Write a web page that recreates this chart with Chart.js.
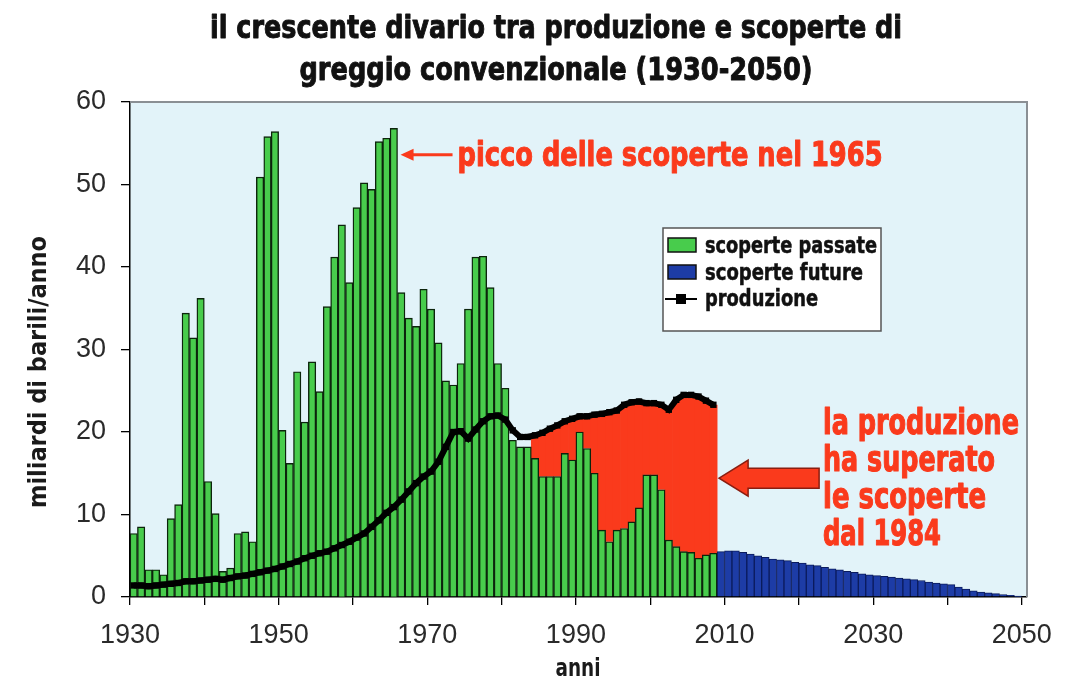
<!DOCTYPE html>
<html>
<head>
<meta charset="utf-8">
<script src="https://cdn.jsdelivr.net/npm/chart.js@4.4.1/dist/chart.umd.min.js"></script>
<style>
  html, body { margin: 0; padding: 0; background: #fff; }
  #wrap { width: 1081px; height: 683px; position: relative; }
</style>
</head>
<body>
<div id="wrap"><canvas id="chart" width="1081" height="683"></canvas></div>
<script>
// ── data (miliardi di barili/anno) ─────────────────────────────
const PAST_YEARS = [
  1930,1931,1932,1933,1934,1935,1936,1937,1938,1939,
  1940,1941,1942,1943,1944,1945,1946,1947,1948,1949,
  1950,1951,1952,1953,1954,1955,1956,1957,1958,1959,
  1960,1961,1962,1963,1964,1965,1966,1967,1968,1969,
  1970,1971,1972,1973,1974,1975,1976,1977,1978,1979,
  1980,1981,1982,1983,1984,1985,1986,1987,1988,1989,
  1990,1991,1992,1993,1994,1995,1996,1997,1998,1999,
  2000,2001,2002,2003,2004,2005,2006,2007,2008
];
const PAST_DISCOVERIES = [
  7.7, 8.5, 3.3, 3.3, 2.7, 9.5, 11.2, 34.4, 31.4, 36.2,
  14.0, 10.1, 3.1, 3.5, 7.7, 7.9, 6.7, 50.9, 55.8, 56.4,
  20.2, 16.2, 27.3, 21.2, 28.5, 24.9, 35.2, 41.2, 45.1, 38.1,
  47.2, 50.2, 49.4, 55.2, 55.6, 56.8, 36.9, 33.8, 32.8, 37.3,
  34.9, 30.8, 26.2, 25.7, 28.3, 34.9, 41.2, 41.3, 37.5, 28.3,
  25.3, 19.0, 18.2, 18.2, 16.8, 14.6, 14.6, 14.6, 17.4, 16.6,
  20.0, 18.0, 15.0, 8.1, 6.7, 8.1, 8.3, 9.1, 10.8, 14.8,
  14.8, 13.0, 6.9, 6.1, 5.5, 5.4, 4.7, 5.1, 5.3
];
const PRODUCTION = [
  1.4, 1.4, 1.3, 1.4, 1.5, 1.6, 1.7, 1.9, 1.9, 2.0,
  2.1, 2.2, 2.1, 2.3, 2.5, 2.6, 2.8, 3.0, 3.2, 3.4,
  3.7, 4.0, 4.3, 4.7, 5.0, 5.3, 5.5, 5.9, 6.3, 6.7,
  7.2, 7.7, 8.5, 9.3, 10.2, 10.9, 11.8, 12.8, 13.8, 14.6,
  15.2, 16.4, 18.2, 20.0, 20.1, 19.2, 20.3, 21.3, 21.9, 22.0,
  21.5, 20.2, 19.4, 19.4, 19.6, 19.9, 20.4, 20.8, 21.3, 21.6,
  21.9, 21.9, 22.1, 22.2, 22.4, 22.6, 23.3, 23.6, 23.7, 23.5,
  23.5, 23.3, 22.7, 23.9, 24.5, 24.5, 24.3, 23.8, 23.3
];
const FUTURE_YEARS = [
  2009,2010,2011,2012,2013,2014,2015,2016,2017,2018,2019,
  2020,2021,2022,2023,2024,2025,2026,2027,2028,2029,
  2030,2031,2032,2033,2034,2035,2036,2037,2038,2039,
  2040,2041,2042,2043,2044,2045,2046,2047,2048,2049
];
const FUTURE_DISCOVERIES = [
  5.5, 5.6, 5.6, 5.4, 5.2, 5.0, 4.8, 4.6, 4.5, 4.4, 4.2,
  4.1, 3.9, 3.8, 3.6, 3.4, 3.3, 3.1, 3.0, 2.8, 2.7,
  2.6, 2.5, 2.4, 2.3, 2.2, 2.1, 2.0, 1.8, 1.7, 1.6,
  1.5, 1.2, 0.95, 0.75, 0.6, 0.5, 0.4, 0.3, 0.2, 0.1
];
const GAP_FROM = 1984;   // production above discoveries from here on
const X_TICK_LABELS = [1930, 1950, 1970, 1990, 2010, 2030, 2050];

const GREEN = "#48cc4c", BLUE = "#1d3ca6", RED = "#fa3a1c";
const NARROW = "'DejaVu Sans Condensed', 'Liberation Sans Narrow', sans-serif";
const AXISFONT = "'Liberation Sans Narrow', 'Liberation Sans', Arial, sans-serif";

// bars sit between year and year+1
const mid = y => y + 0.5;

// ── text helper: squeeze to a given width, optional stroke to fatten ──
function fitText(ctx, text, x, y, width, font, color, align, heavy) {
  ctx.save();
  ctx.font = font;
  ctx.fillStyle = color;
  ctx.strokeStyle = color;
  ctx.textBaseline = "alphabetic";
  const w = ctx.measureText(text).width;
  const k = width / w;
  let left = x;
  if (align === "center") left = x - width / 2;
  ctx.translate(left, y);
  ctx.scale(k, 1);
  ctx.textAlign = "left";
  if (heavy) {
    ctx.lineWidth = heavy;
    ctx.lineJoin = "round";
    ctx.strokeText(text, 0, 0);
  }
  ctx.fillText(text, 0, 0);
  ctx.restore();
}

const overlay = {
  id: "overlay",
  beforeDraw(chart) {
    const { ctx, chartArea: a } = chart;
    ctx.save();
    ctx.fillStyle = "#fff";
    ctx.fillRect(0, 0, chart.width, chart.height);
    ctx.fillStyle = "#e2f3f9";
    ctx.fillRect(a.left, a.top, a.right - a.left, a.bottom - a.top);
    ctx.restore();
  },
  afterDatasetsDraw(chart) {
    const { ctx, chartArea: a } = chart;
    ctx.save();
    ctx.strokeStyle = "#8a8f94";
    ctx.lineWidth = 2;
    ctx.beginPath();
    ctx.moveTo(a.left, a.top);
    ctx.lineTo(a.right, a.top);
    ctx.lineTo(a.right, a.bottom);
    ctx.stroke();
    ctx.restore();
  },
  afterDraw(chart) {
    const { ctx } = chart;
    const xs = chart.scales.x, ys = chart.scales.y;

    // title
    fitText(ctx, "il crescente divario tra produzione e scoperte di", 556, 38, 692,
      "bold 32px " + NARROW, "#111", "center", 0.9);
    fitText(ctx, "greggio convenzionale (1930-2050)", 556, 80, 513,
      "bold 32px " + NARROW, "#111", "center", 0.9);

    // axis titles
    ctx.save();
    ctx.translate(46, 372);
    ctx.rotate(-Math.PI / 2);
    fitText(ctx, "miliardi di barili/anno", 0, 0, 272, "bold 24px " + NARROW, "#1a1a1a", "center");
    ctx.restore();
    fitText(ctx, "anni", 578, 676, 45, "bold 25px " + NARROW, "#1a1a1a", "center");

    // peak annotation
    const tipX = xs.getPixelForValue(1966) + 3, tipY = ys.getPixelForValue(53.6);
    ctx.save();
    ctx.strokeStyle = RED; ctx.fillStyle = RED; ctx.lineWidth = 3;
    ctx.beginPath();
    ctx.moveTo(tipX + 10, tipY); ctx.lineTo(tipX + 52, tipY); ctx.stroke();
    ctx.beginPath();
    ctx.moveTo(tipX, tipY); ctx.lineTo(tipX + 13, tipY - 6); ctx.lineTo(tipX + 13, tipY + 6);
    ctx.closePath(); ctx.fill();
    ctx.restore();
    fitText(ctx, "picco delle scoperte nel 1965", tipX + 57, 166, 425, "bold 34px " + NARROW, RED, "left", 1.0);

    // gap annotation: big arrow pointing at the 2008 edge
    const ax = xs.getPixelForValue(2009) + 2, ay = ys.getPixelForValue(14.4);
    ctx.save();
    ctx.fillStyle = RED; ctx.strokeStyle = "#8a1d10"; ctx.lineWidth = 1.5;
    ctx.beginPath();
    ctx.moveTo(ax, ay);
    ctx.lineTo(ax + 29, ay - 18);
    ctx.lineTo(ax + 29, ay - 10);
    ctx.lineTo(ax + 100, ay - 10);
    ctx.lineTo(ax + 100, ay + 10);
    ctx.lineTo(ax + 29, ay + 10);
    ctx.lineTo(ax + 29, ay + 18);
    ctx.closePath();
    ctx.fill(); ctx.stroke();
    ctx.restore();
    const gapFont = "bold 36px " + NARROW;
    fitText(ctx, "la produzione", 823, 434, 196, gapFont, RED, "left", 1.1);
    fitText(ctx, "ha superato", 823, 471, 172, gapFont, RED, "left", 1.1);
    fitText(ctx, "le scoperte", 823, 508, 163, gapFont, RED, "left", 1.1);
    fitText(ctx, "dal 1984", 823, 545, 118, gapFont, RED, "left", 1.1);

    // legend
    ctx.save();
    ctx.fillStyle = "#fff"; ctx.strokeStyle = "#555"; ctx.lineWidth = 1.5;
    ctx.fillRect(663, 228, 218, 103); ctx.strokeRect(663, 228, 218, 103);
    ctx.lineWidth = 1.5; ctx.strokeStyle = "#111";
    ctx.fillStyle = GREEN; ctx.fillRect(668, 238, 28, 14); ctx.strokeRect(668, 238, 28, 14);
    ctx.fillStyle = BLUE; ctx.fillRect(668, 265, 28, 14); ctx.strokeRect(668, 265, 28, 14);
    ctx.strokeStyle = "#000"; ctx.lineWidth = 2;
    ctx.beginPath(); ctx.moveTo(665, 299); ctx.lineTo(697, 299); ctx.stroke();
    ctx.fillStyle = "#000"; ctx.fillRect(676, 294, 10, 10);
    ctx.restore();
    const legFont = "bold 23px " + NARROW;
    fitText(ctx, "scoperte passate", 705, 253, 172, legFont, "#111", "left", 0.5);
    fitText(ctx, "scoperte future", 705, 280, 158, legFont, "#111", "left", 0.5);
    fitText(ctx, "produzione", 705, 306, 113, legFont, "#111", "left", 0.5);
  }
};

const gapIdx = PAST_YEARS.map((y, i) => i).filter(i => PAST_YEARS[i] >= GAP_FROM);

new Chart(document.getElementById("chart"), {
  type: "bar",
  data: {
    datasets: [
      {
        type: "line",
        label: "produzione",
        data: PAST_YEARS.map((y, i) => ({ x: mid(y), y: PRODUCTION[i] })),
        borderColor: "#000",
        backgroundColor: "#000",
        borderWidth: 6,
        pointStyle: "rect",
        pointRadius: 4.5,
        pointBorderWidth: 0,
        tension: 0,
        order: 0
      },
      {
        label: "scoperte passate",
        data: PAST_YEARS.map((y, i) => ({ x: mid(y), y: PAST_DISCOVERIES[i] })),
        backgroundColor: GREEN,
        borderColor: "#0c240c",
        borderWidth: 1.4,
        order: 1
      },
      {
        label: "scoperte future",
        data: FUTURE_YEARS.map((y, i) => ({ x: mid(y), y: FUTURE_DISCOVERIES[i] })),
        backgroundColor: BLUE,
        borderColor: "#0b1b5c",
        borderWidth: 1,
        order: 2
      },
      {
        label: "divario",
        data: gapIdx.map(i => ({ x: mid(PAST_YEARS[i]), y: [PAST_DISCOVERIES[i], PRODUCTION[i]] })),
        backgroundColor: RED,
        borderWidth: 0,
        barPercentage: 1.1,
        order: 3
      }
    ]
  },
  options: {
    responsive: false,
    animation: false,
    events: [],
    grouped: false,
    barPercentage: 1,
    categoryPercentage: 1,
    layout: { padding: { top: 102, right: 54, left: 0, bottom: 0 } },
    plugins: {
      legend: { display: false },
      title: { display: false },
      tooltip: { enabled: false }
    },
    scales: {
      x: {
        type: "linear",
        min: 1930,
        max: 2050.7,
        offset: false,
        grid: { drawOnChartArea: false, offset: false, tickLength: 8, color: "#000", lineWidth: 1.3 },
        border: { color: "#000", width: 1.5 },
        ticks: {
          stepSize: 10,
          includeBounds: false,
          autoSkip: false,
          maxRotation: 0,
          padding: 14,
          color: "#2a2a2a",
          font: { family: AXISFONT, size: 27 },
          callback: v => X_TICK_LABELS.includes(v) ? String(v) : ""
        },
        afterFit: s => { s.height = 86; }
      },
      y: {
        min: 0,
        max: 60,
        grid: { drawOnChartArea: false, tickLength: 9, color: "#000", lineWidth: 1.3 },
        border: { color: "#000", width: 1.5 },
        ticks: {
          stepSize: 10,
          padding: 15,
          color: "#2a2a2a",
          font: { family: AXISFONT, size: 27 }
        },
        afterFit: s => { s.width = 130; }
      }
    }
  },
  plugins: [overlay]
});
</script>
</body>
</html>
